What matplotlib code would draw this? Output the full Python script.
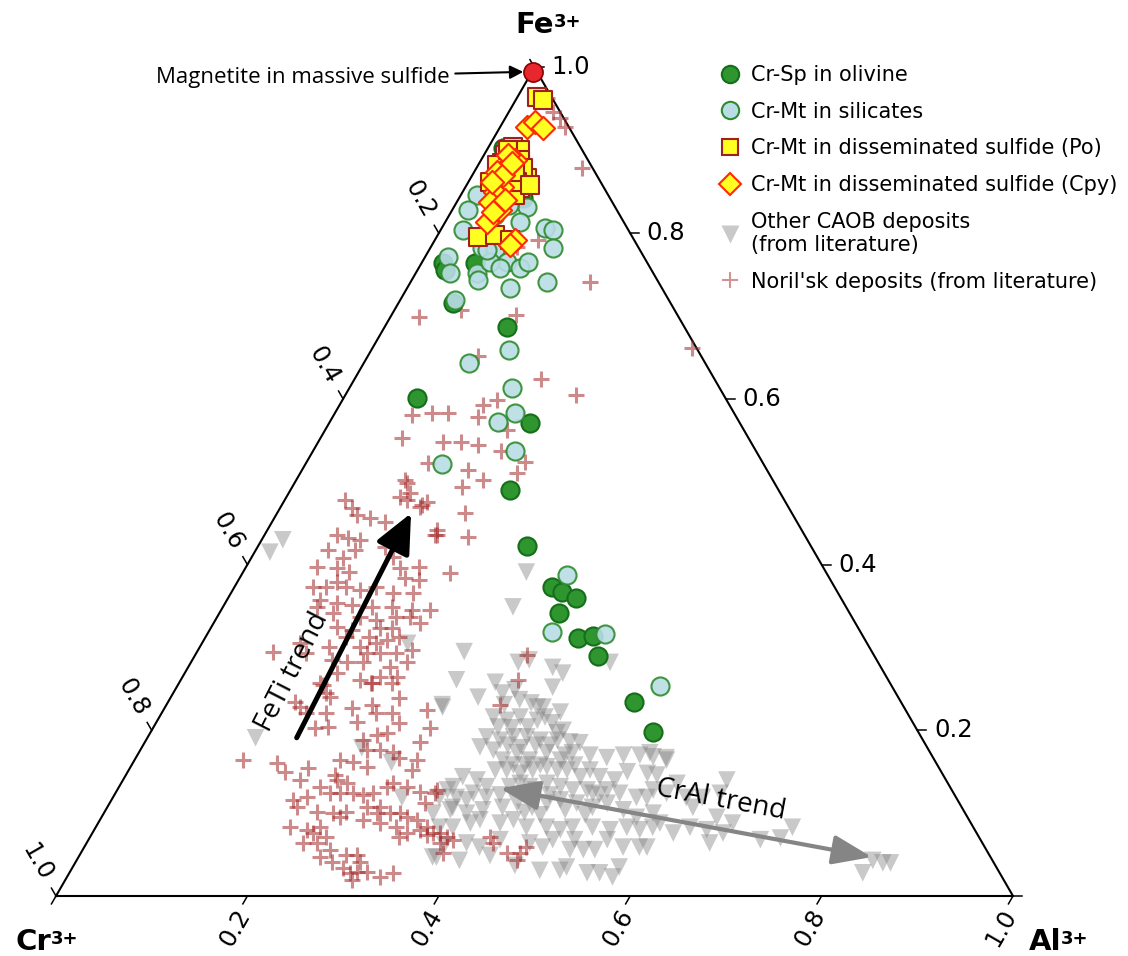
import numpy as np
import matplotlib.pyplot as plt
from matplotlib.lines import Line2D

# compositions in % as (Al3+, Fe3+); Cr3+ = 100 - Al - Fe
magnetite = [(0.1, 99.5)]

olivine_sp = [(2.2, 76.4), (5.6, 76.4), (5.7, 71.6), (12.8, 68.7), (7.7, 60.1), (21.0, 57.1),
              (22.9, 49.0), (28.1, 42.2), (33.2, 37.3), (34.5, 36.7), (36.3, 36.0), (35.5, 34.2),
              (39.0, 31.1), (40.4, 31.4), (42.1, 29.0), (48.7, 23.4), (52.5, 19.8), (6.7, 84.2),
              (1.6, 90.3), (2.4, 86.4), (2.9, 75.6)]

silicate_mt = [(1.7, 84.6), (1.7, 82.8), (2.3, 80.4), (5.4, 78.2), (6.9, 78.0), (8.9, 76.5),
               (10.6, 75.8), (11.1, 76.5), (10.8, 80.6), (11.7, 80.4), (12.8, 78.2), (14.3, 74.1),
               (10.7, 73.4), (2.4, 77.1), (3.6, 75.2), (6.4, 75.2), (7.1, 76.5), (7.6, 83.2),
               (7.8, 81.4), (6.0, 78.0), (5.7, 71.9), (6.9, 74.4), (14.4, 65.9), (11.0, 64.3),
               (17.0, 61.3), (18.8, 58.3), (17.6, 57.2), (21.1, 53.7), (14.3, 52.1), (34.0, 38.7),
               (35.9, 31.9), (41.6, 31.6), (50.5, 25.3), (4.8, 82.2), (5.6, 83.4), (8.5, 75.8)]

po_mt = [(2.1, 96.4), (2.8, 96.1), (2.6, 90.4), (3.5, 90.0), (2.2, 89.4), (2.4, 88.5), (5.9, 86.7),
         (4.1, 88.8), (5.7, 85.5), (5.7, 84.6), (4.3, 79.5), (6.0, 79.8), (2.0, 88.2), (4.8, 87.9),
         (5.1, 86.2), (2.3, 86.2), (4.3, 87.4), (2.2, 90.0), (6.6, 85.8), (7.8, 79.2)]

cpy_mt = [(2.8, 92.8), (3.4, 93.4), (4.5, 92.7), (3.6, 88.8), (3.0, 87.9), (2.4, 87.4), (3.8, 85.6),
          (3.4, 85.0), (3.5, 83.8), (5.0, 82.8), (4.3, 81.4), (4.4, 82.6), (8.4, 79.2), (8.1, 78.6),
          (2.5, 89.4), (3.2, 87.0), (2.5, 86.2), (3.4, 88.5), (4.9, 84.0)]

caob = [(1.6, 41.5), (2.2, 43.0), (11.3, 19.1), (29.6, 39.1), (30.3, 34.9), (27.9, 29.5), (28.8, 26.1),
        (29.0, 22.8), (38.1, 27.6), (39.5, 26.9), (39.3, 25.2), (35.2, 28.5), (34.2, 28.2), (43.8, 28.2),
        (33.0, 25.8), (32.1, 24.0), (34.4, 24.5), (35.5, 24.9), (38.9, 22.8), (41.6, 22.2), (42.5, 19.7),
        (38.0, 23.3), (39.5, 22.8), (34.9, 21.6), (36.5, 21.2), (37.7, 21.6), (39.7, 21.2), (40.3, 21.6),
        (41.4, 20.9), (43.0, 20.0), (35.4, 19.2), (37.0, 18.8), (38.2, 19.2), (39.6, 19.2), (41.2, 18.8),
        (43.0, 18.8), (44.4, 18.6), (45.5, 18.5), (35.3, 18.0), (36.9, 17.6), (39.5, 17.3), (41.3, 16.4),
        (42.6, 17.3), (44.5, 16.4), (45.3, 17.3), (47.3, 17.0), (49.2, 16.7), (50.8, 17.0), (52.5, 17.0),
        (54.0, 16.8), (55.4, 16.7), (38.5, 16.4), (39.5, 15.2), (41.1, 14.8), (42.2, 15.2), (43.5, 15.6),
        (44.8, 15.2), (45.8, 15.2), (47.6, 14.4), (49.6, 14.4), (52.2, 15.0), (54.4, 14.8), (35.3, 14.4),
        (37.0, 14.0), (38.4, 13.2), (34.9, 13.2), (34.1, 11.9), (35.9, 11.9), (37.4, 12.4), (39.0, 11.9),
        (40.8, 13.2), (41.7, 13.6), (42.9, 13.2), (44.5, 13.6), (46.1, 13.2), (47.6, 12.8), (49.1, 12.8),
        (49.9, 12.4), (51.2, 12.8), (52.7, 12.4), (54.7, 11.9), (56.0, 12.8), (57.6, 12.4), (34.4, 10.0),
        (36.0, 10.4), (37.9, 10.0), (39.4, 10.4), (41.3, 10.7), (42.6, 11.2), (44.4, 10.7), (45.7, 11.2),
        (46.9, 11.6), (48.8, 11.2), (50.7, 10.7), (52.0, 11.2), (54.1, 10.4), (55.9, 9.5), (57.4, 10.0),
        (35.9, 8.3), (37.3, 8.3), (38.9, 8.8), (42.0, 8.8), (43.2, 9.2), (45.0, 8.3), (47.1, 8.3),
        (48.7, 8.0), (49.8, 8.3), (51.9, 8.3), (53.9, 8.0), (55.5, 8.3), (57.0, 8.0), (58.2, 8.3),
        (39.7, 6.4), (41.3, 5.9), (43.0, 6.8), (46.3, 6.4), (47.9, 5.9), (48.5, 6.8), (50.9, 5.6),
        (52.3, 5.6), (54.2, 6.8), (56.3, 5.9), (58.0, 5.9), (49.0, 3.1), (51.1, 3.1), (54.1, 2.8),
        (55.4, 2.8), (57.0, 2.3), (57.1, 3.5), (37.0, 4.7), (51.6, 3.5), (53.4, 17.3), (55.6, 16.4),
        (55.5, 14.6), (58.1, 13.6), (55.8, 11.9), (59.9, 11.9), (61.6, 11.9), (63.1, 14.0), (63.2, 12.4),
        (61.2, 10.7), (64.3, 9.5), (58.7, 8.8), (62.1, 8.3), (64.0, 8.0), (66.3, 8.8), (65.1, 6.4),
        (65.9, 7.6), (70.2, 6.8), (72.2, 7.0), (72.8, 8.3), (58.8, 5.9), (60.7, 7.6), (83.2, 4.3),
        (84.4, 4.0), (85.2, 4.0), (82.9, 2.8), (23.0, 17.9), (27.0, 16.1), (30.2, 11.9), (37.4, 4.7),
        (34.5, 12.8), (36.1, 10.7), (28.8, 23.1), (21.5, 30.5), (35.3, 23.1), (36.6, 23.7), (39.1, 20.4),
        (37.5, 20.3), (36.0, 20.4), (41.0, 18.2), (39.7, 17.9), (38.1, 18.2), (42.7, 15.8), (41.1, 15.8),
        (39.9, 15.8), (38.3, 15.2), (43.7, 12.8), (40.3, 12.2), (37.1, 11.6), (45.5, 12.2), (48.0, 10.4),
        (50.4, 9.8), (45.7, 9.8), (43.9, 10.1), (50.7, 12.2), (51.4, 14.0), (44.7, 17.0), (42.5, 18.2),
        (46.3, 15.8), (48.2, 15.2), (39.7, 9.2), (42.9, 4.9), (46.1, 3.7), (40.0, 4.3), (37.5, 6.2),
        (50.8, 6.8), (53.5, 5.6)]

norilsk = [(3.2, 96.3), (4.6, 94.6), (5.7, 93.9), (6.8, 92.8), (11.0, 87.9), (10.8, 79.2), (9.0, 78.3),
           (18.8, 74.1), (3.0, 69.9), (7.0, 70.7), (13.0, 70.1), (33.4, 66.1), (11.5, 65.2), (19.5, 62.4),
           (24.1, 60.5), (15.0, 59.3), (16.1, 59.9), (8.1, 58.1), (10.1, 58.3), (11.8, 58.3), (15.2, 57.8),
           (20.0, 57.5), (19.0, 56.2), (8.5, 55.3), (13.0, 54.8), (14.9, 54.8), (16.9, 54.4), (19.7, 53.7),
           (22.8, 52.4), (12.7, 52.3), (17.4, 51.4), (22.6, 51.1), (19.5, 50.2), (17.7, 49.4), (11.4, 50.2),
           (12.7, 48.6), (14.6, 47.2), (15.0, 47.6), (19.6, 46.2), (17.7, 44.2), (17.8, 43.6), (21.4, 43.3),
           (11.8, 49.8), (11.8, 48.2), (12.8, 47.8), (14.5, 47.0), (6.3, 47.8), (7.5, 46.8), (8.5, 46.0),
           (10.0, 45.6), (11.8, 45.1), (18.0, 43.6), (7.6, 43.6), (8.9, 43.2), (10.3, 43.0), (7.5, 41.8),
           (10.3, 41.8), (13.3, 42.1), (14.8, 40.9), (9.6, 40.8), (7.4, 39.7), (9.6, 39.6), (11.1, 39.1),
           (16.1, 39.6), (18.1, 39.7), (21.7, 39.0), (17.3, 38.4), (18.9, 38.1), (10.4, 37.9), (8.2, 37.3),
           (9.6, 37.3), (11.7, 37.3), (13.3, 36.9), (14.8, 37.3), (16.9, 36.6), (19.0, 36.6), (9.7, 35.7),
           (11.7, 35.4), (13.4, 35.1), (15.6, 34.9), (17.7, 34.9), (20.0, 34.5), (21.8, 34.5), (9.8, 34.9),
           (11.8, 34.2), (14.9, 33.7), (16.8, 33.3), (18.7, 33.7), (20.1, 33.7), (21.5, 33.0), (13.1, 32.5),
           (14.9, 32.1), (17.7, 32.3), (19.0, 32.3), (14.7, 31.3), (17.1, 31.3), (19.1, 30.9), (18.2, 30.5),
           (20.2, 31.3), (7.9, 29.5), (10.2, 30.5), (11.5, 29.3), (13.5, 30.1), (16.7, 30.1), (17.8, 29.3),
           (19.2, 29.3), (20.9, 29.3), (22.4, 29.7), (14.6, 28.5), (16.3, 28.2), (18.0, 28.2), (21.1, 27.6),
           (22.6, 28.2), (15.9, 26.9), (18.7, 26.1), (20.7, 26.4), (22.4, 26.4), (14.7, 25.7), (16.0, 24.5),
           (20.2, 25.7), (15.1, 25.5), (16.6, 24.0), (13.3, 23.4), (14.1, 22.8), (15.1, 22.1), (17.2, 22.1),
           (16.9, 20.3), (18.2, 20.4), (19.6, 22.7), (21.5, 23.1), (21.0, 21.0), (22.4, 22.1), (24.1, 22.1),
           (23.9, 23.9), (22.3, 25.7), (20.1, 25.7), (25.4, 20.9), (27.5, 22.5), (28.9, 20.3), (28.7, 18.6),
           (22.7, 18.8), (23.8, 19.4), (24.7, 19.7), (23.7, 17.6), (25.1, 17.6), (26.5, 17.4), (27.5, 16.7),
           (29.5, 16.4), (29.6, 15.2), (11.3, 16.4), (15.0, 16.1), (16.4, 15.0), (18.6, 15.4), (18.5, 14.0),
           (21.5, 16.4), (22.9, 16.2), (24.7, 15.6), (21.9, 14.6), (22.4, 14.0), (23.6, 13.6), (21.0, 13.2),
           (22.4, 12.4), (23.5, 12.4), (24.8, 12.4), (26.0, 12.2), (26.9, 12.4), (28.0, 13.2), (28.4, 13.6),
           (30.1, 13.2), (31.7, 12.6), (33.4, 12.8), (19.0, 11.6), (19.8, 10.7), (20.3, 11.9), (22.2, 10.1),
           (23.9, 10.0), (25.3, 10.1), (27.1, 10.7), (28.5, 10.7), (28.5, 10.0), (29.9, 10.0), (30.9, 10.0),
           (31.9, 9.5), (33.1, 9.2), (34.6, 8.3), (35.6, 7.6), (37.3, 7.1), (38.1, 6.8), (36.9, 6.4),
           (35.1, 7.4), (34.0, 8.0), (20.3, 8.3), (22.2, 8.0), (23.1, 7.6), (23.4, 8.3), (24.7, 7.1),
           (22.6, 6.4), (24.1, 6.4), (25.2, 4.7), (25.8, 5.6), (26.8, 4.1), (27.9, 4.9), (29.0, 4.9),
           (28.3, 3.4), (29.3, 2.8), (30.0, 2.9), (31.0, 2.9), (32.7, 2.3), (33.8, 2.8), (30.0, 1.9),
           (29.7, 4.1), (24.9, 9.5), (27.5, 9.2), (29.5, 8.8), (31.4, 8.3), (32.9, 7.6), (32.3, 7.1),
           (34.7, 29.1), (35.2, 26.1), (34.8, 23.1), (33.4, 12.4), (33.0, 11.2), (36.3, 7.6), (37.8, 5.2),
           (41.8, 7.1), (42.5, 6.4), (44.5, 5.2), (45.9, 5.2), (46.2, 5.9), (46.0, 4.3)]

tick_vals = [0.0, 0.2, 0.4, 0.6, 0.8, 1.0]
tick_text = ['', '0.2', '0.4', '0.6', '0.8', '1.0']

# corner labels: element, pixel centre of the element symbol
corners = [('Fe', 535, 25), ('Cr', 33, 942), ('Al', 1045, 942)]

# trend arrows, (Al, Fe) in %
feti_arrow = [(15.6, 19.1), (14.0, 46.2)]
cral_arrow = [(39.9, 13.0), (82.9, 4.7)]

H = np.sqrt(3) / 2


def proj(pts):
    a = np.asarray(pts, dtype=float) / 100.0
    return a[:, 0] + a[:, 1] / 2, a[:, 1] * H


fig = plt.figure(figsize=(11.28, 9.56), dpi=100)
ax = fig.add_axes([56 / 1128, 60 / 956, 957 / 1128, 828.5 / 956])
ax.set_xlim(0, 1)
ax.set_ylim(0, H)
ax.axis('off')

# triangle
ax.plot([0, 1, 0.5, 0], [0, 0, H, 0], color='black', lw=1.5, clip_on=False, zorder=0)

tl = 0.0095
for t, lab in zip(tick_vals, tick_text):
    # bottom axis: Al
    ax.plot([t, t - tl / 2], [0, -tl * H], color='black', lw=1.1, clip_on=False)
    ax.text(t - 0.0125, -0.0334, lab, rotation=60, ha='center', va='center',
            rotation_mode='anchor', fontsize=17.5)
    # right axis: Fe
    xr, yr = 1 - t / 2, t * H
    ax.plot([xr, xr + tl], [yr, yr], color='black', lw=1.1, clip_on=False)
    ax.text(xr + 0.0376, yr, lab, ha='center', va='center', fontsize=17.5)
    # left axis: Cr
    xl, yl = (1 - t) / 2, (1 - t) * H
    ax.plot([xl, xl - tl / 2], [yl, yl + tl * H], color='black', lw=1.1, clip_on=False)
    ax.text(xl - 0.0199, yl + 0.035, lab, rotation=-60, ha='center', va='center',
            rotation_mode='anchor', fontsize=17.5)

for name, px, py in corners:
    txt = ax.text((px - 56) / 957, (896 - py) / 957, name, fontsize=21, fontweight='bold',
                  ha='center', va='center')
    ax.annotate('3+', xy=(1.0, 0.93), xycoords=txt, ha='left', va='top',
                fontsize=13, fontweight='bold')

# data
x, y = proj(caob)
ax.scatter(x, y, marker='v', s=160, color='gray', alpha=0.42, edgecolors='none', zorder=2, clip_on=False)
x, y = proj(norilsk)
ax.scatter(x, y, marker='+', s=145, color='#a52a2a', alpha=0.55, linewidths=2.2, zorder=3, clip_on=False)
x, y = proj(olivine_sp)
ax.scatter(x, y, marker='o', s=170, facecolor='#2f962f', edgecolor='#146e1a', linewidths=1.5,
           zorder=4, clip_on=False)
x, y = proj(silicate_mt)
ax.scatter(x, y, marker='o', s=170, facecolor='#b9dde6', edgecolor='#2e8b2e', linewidths=1.5,
           alpha=0.9, zorder=5, clip_on=False)
x, y = proj(po_mt)
ax.scatter(x, y, marker='s', s=155, facecolor='#ffff22', edgecolor='#a02020', linewidths=1.5,
           zorder=6, clip_on=False)
x, y = proj(cpy_mt)
ax.scatter(x, y, marker='D', s=140, facecolor='#ffff22', edgecolor='#ff2a00', linewidths=1.5,
           zorder=7, clip_on=False)
x, y = proj(magnetite)
ax.scatter(x, y, marker='o', s=190, facecolor='#e8262e', edgecolor='#8b0000', linewidths=1.2,
           zorder=8, clip_on=False)

ax.annotate('Magnetite in massive sulfide', xy=(x[0], y[0]), xytext=(-60, -4),
            textcoords='offset points', ha='right', va='center', fontsize=16,
            family='Open Sans',
            arrowprops=dict(arrowstyle='-|>', color='black', lw=1.5, mutation_scale=20,
                            shrinkA=2, shrinkB=7))

# trend arrows
ax_, ay_ = proj(feti_arrow)
ax.annotate('', xy=(ax_[1], ay_[1]), xytext=(ax_[0], ay_[0]),
            arrowprops=dict(arrowstyle='-|>,head_length=1.2,head_width=0.55', color='black',
                            lw=3.6, mutation_scale=20, shrinkA=0, shrinkB=0), zorder=9)
ax.text((292 - 56) / 957, (896 - 672) / 957, 'FeTi trend', rotation=63, ha='center', va='center',
        rotation_mode='anchor', fontsize=20, family='Open Sans', zorder=9)

bx, by = proj(cral_arrow)
ax.annotate('', xy=(bx[1], by[1]), xytext=(bx[0], by[0]),
            arrowprops=dict(arrowstyle='<|-|>,head_length=1.2,head_width=0.45', color='#858585',
                            lw=3, mutation_scale=20, shrinkA=0, shrinkB=0), zorder=9)
ax.text((721 - 56) / 957, (896 - 800) / 957, 'CrAl trend', rotation=-10.5, ha='center', va='center',
        rotation_mode='anchor', fontsize=20, family='Open Sans', zorder=9)

handles = [
    Line2D([], [], ls='', marker='o', ms=12.5, mfc='#2f962f', mec='#146e1a', mew=1.5),
    Line2D([], [], ls='', marker='o', ms=12.5, mfc='#b9dde6', mec='#2e8b2e', mew=1.5),
    Line2D([], [], ls='', marker='s', ms=11.5, mfc='#ffff22', mec='#a02020', mew=1.5),
    Line2D([], [], ls='', marker='D', ms=11, mfc='#ffff22', mec='#ff2a00', mew=1.5),
    Line2D([], [], ls='', marker='v', ms=12.5, color='gray', alpha=0.42, mec='none'),
    Line2D([], [], ls='', marker='+', ms=12, color='#a52a2a', alpha=0.5, mew=1.5),
]
labels = ['Cr-Sp in olivine', 'Cr-Mt in silicates', 'Cr-Mt in disseminated sulfide (Po)',
          'Cr-Mt in disseminated sulfide (Cpy)', 'Other CAOB deposits\n(from literature)',
          "Noril'sk deposits (from literature)"]
fig.legend(handles, labels, loc='upper left', bbox_to_anchor=(719.6 / 1128, 1 - 65 / 956),
           frameon=False, fontsize=15, handlelength=1.0, handletextpad=0.5,
           labelspacing=0.8, borderpad=0, borderaxespad=0)

fig.savefig('out.png', dpi=100)
